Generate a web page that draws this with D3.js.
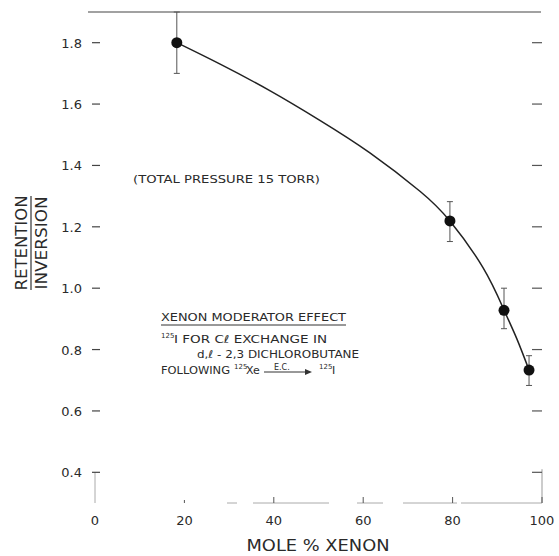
<!DOCTYPE html>
<html><head><meta charset="utf-8">
<script src="https://cdn.jsdelivr.net/npm/d3@7"></script>
<style>
html,body{margin:0;padding:0;background:#fff;}
text{font-family:"DejaVu Sans",sans-serif;fill:#2a2a2a;}
</style></head>
<body>
<svg id="c" width="559" height="556"></svg>
<script>
// Data
const xTicks = [0, 20, 40, 60, 80, 100];
const xTickLabels = ["0", "20", "40", "60", "80", "100"];
const yTicks = [0.4, 0.6, 0.8, 1.0, 1.2, 1.4, 1.6, 1.8];
const yTickLabels = ["0.4", "0.6", "0.8", "1.0", "1.2", "1.4", "1.6", "1.8"];
const moleXenon = [18.3, 79.4, 91.5, 97.1];
const ratio = [1.80, 1.219, 0.928, 0.733];
const errLow = [1.70, 1.152, 0.868, 0.683];
const errHigh = [1.90, 1.282, 1.000, 0.780];
const curveX = [18.3, 28, 39.2, 50.3, 61.5, 72.7, 79.4, 86.8, 91.5, 94.4, 97.1];
const curveY = [1.80, 1.730, 1.643, 1.547, 1.441, 1.316, 1.219, 1.067, 0.929, 0.834, 0.733];

const svg = d3.select("#c");
const x = d3.scaleLinear().domain([0, 100]).range([95, 542]);
const y = d3.scaleLinear().domain([0.3, 1.9]).range([503, 12]);

// top frame line
svg.append("line").attr("x1", 88).attr("x2", 541).attr("y1", y(1.9)).attr("y2", y(1.9))
  .attr("stroke", "#444").attr("stroke-width", 1.2);
// bottom frame line (faint, broken)
svg.append("line").attr("x1", x(0)).attr("x2", x(100)).attr("y1", y(0.3)).attr("y2", y(0.3))
  .attr("stroke", "#aaa").attr("stroke-width", 1).attr("stroke-dasharray", "0,132,10,16,76,28,26,20,54,4,64");
// corner pieces
svg.append("line").attr("x1", x(0)).attr("x2", x(0)).attr("y1", y(0.4)).attr("y2", y(0.3))
  .attr("stroke", "#aaa");
svg.append("line").attr("x1", x(100)).attr("x2", x(100)).attr("y1", y(0.41)).attr("y2", y(0.3))
  .attr("stroke", "#999");

// left ticks
const gy = svg.append("g");
gy.selectAll("line").data(yTicks).join("line")
  .attr("x1", 92).attr("x2", 100)
  .attr("y1", d => y(d)).attr("y2", d => y(d))
  .attr("stroke", "#444").attr("stroke-width", 1.2);
gy.selectAll("text").data(yTicks).join("text")
  .attr("x", 82).attr("y", d => y(d) + 5)
  .attr("text-anchor", "end").attr("font-size", 13)
  .text((d, i) => yTickLabels[i]);
// right ticks
svg.append("g").selectAll("line").data(yTicks).join("line")
  .attr("x1", 532).attr("x2", x(100))
  .attr("y1", d => y(d)).attr("y2", d => y(d))
  .attr("stroke", "#555").attr("stroke-width", 1.2);

// bottom ticks
const gx = svg.append("g");
gx.selectAll("line").data(xTicks.slice(1)).join("line")
  .attr("x1", d => x(d)).attr("x2", d => x(d))
  .attr("y1", d => y(0.3) - (d === 20 ? 3 : 6)).attr("y2", y(0.3))
  .attr("stroke", "#555");
gx.selectAll("text").data(xTicks).join("text")
  .attr("x", d => x(d)).attr("y", 525)
  .attr("text-anchor", "middle").attr("font-size", 13)
  .text((d, i) => xTickLabels[i]);

// axis titles
svg.append("text").attr("x", 318).attr("y", 551).attr("text-anchor", "middle")
  .attr("font-size", 16).attr("textLength", 143).attr("lengthAdjust", "spacingAndGlyphs")
  .text("MOLE % XENON");
const yl = svg.append("g").attr("transform", "translate(0,243) rotate(-90)");
yl.append("text").attr("x", 0).attr("y", 27).attr("text-anchor", "middle")
  .attr("font-size", 16).attr("textLength", 95).attr("lengthAdjust", "spacingAndGlyphs").text("RETENTION");
yl.append("line").attr("x1", -47).attr("x2", 47).attr("y1", 31).attr("y2", 31)
  .attr("stroke", "#333").attr("stroke-width", 1.2);
yl.append("text").attr("x", 0).attr("y", 47).attr("text-anchor", "middle")
  .attr("font-size", 16).attr("textLength", 93).attr("lengthAdjust", "spacingAndGlyphs").text("INVERSION");

// annotations
const fs = 11;
svg.append("text").attr("x", 133).attr("y", 183).attr("font-size", fs)
  .attr("textLength", 187).attr("lengthAdjust", "spacingAndGlyphs")
  .text("(TOTAL PRESSURE 15 TORR)");
svg.append("text").attr("x", 161).attr("y", 321).attr("font-size", fs)
  .attr("textLength", 185).attr("lengthAdjust", "spacingAndGlyphs")
  .text("XENON MODERATOR EFFECT");
svg.append("line").attr("x1", 161).attr("x2", 346).attr("y1", 325).attr("y2", 325)
  .attr("stroke", "#333");
// line 2
svg.append("text").attr("x", 161).attr("y", 338).attr("font-size", 7).text("125");
svg.append("text").attr("x", 174).attr("y", 343).attr("font-size", fs)
  .attr("textLength", 153).attr("lengthAdjust", "spacingAndGlyphs")
  .text("I FOR Cℓ EXCHANGE IN");
// line 3
svg.append("text").attr("x", 197).attr("y", 358).attr("font-size", fs)
  .attr("textLength", 162).attr("lengthAdjust", "spacingAndGlyphs")
  .text("d,ℓ - 2,3 DICHLOROBUTANE");
// line 4
svg.append("text").attr("x", 161).attr("y", 374).attr("font-size", fs)
  .attr("textLength", 69).attr("lengthAdjust", "spacingAndGlyphs").text("FOLLOWING");
svg.append("text").attr("x", 234).attr("y", 369).attr("font-size", 7).text("125");
svg.append("text").attr("x", 246).attr("y", 374).attr("font-size", fs).text("Xe");
svg.append("text").attr("x", 274).attr("y", 370).attr("font-size", 8).text("E.C.");
svg.append("line").attr("x1", 264).attr("x2", 306).attr("y1", 372).attr("y2", 372).attr("stroke", "#333");
svg.append("path").attr("d", "M305,369 L312,372 L305,375 Z").attr("fill", "#333");
svg.append("text").attr("x", 319).attr("y", 369).attr("font-size", 7).text("125");
svg.append("text").attr("x", 332).attr("y", 374).attr("font-size", fs).text("I");

// fit curve
const pts = curveX.map((d, i) => [x(d), y(curveY[i])]);
svg.append("path").attr("d", d3.line().curve(d3.curveNatural)(pts))
  .attr("fill", "none").attr("stroke", "#222").attr("stroke-width", 1.5);

// error bars
const eb = svg.append("g").attr("stroke", "#555").attr("stroke-width", 1);
moleXenon.forEach((d, i) => {
  eb.append("line").attr("x1", x(d)).attr("x2", x(d)).attr("y1", y(errLow[i])).attr("y2", y(errHigh[i]));
  eb.append("line").attr("x1", x(d) - 3).attr("x2", x(d) + 3).attr("y1", y(errLow[i])).attr("y2", y(errLow[i]));
  eb.append("line").attr("x1", x(d) - 3).attr("x2", x(d) + 3).attr("y1", y(errHigh[i])).attr("y2", y(errHigh[i]));
});
// points
svg.append("g").selectAll("circle").data(moleXenon).join("circle")
  .attr("cx", d => x(d)).attr("cy", (d, i) => y(ratio[i])).attr("r", 5.5).attr("fill", "#111");
</script>
</body></html>
